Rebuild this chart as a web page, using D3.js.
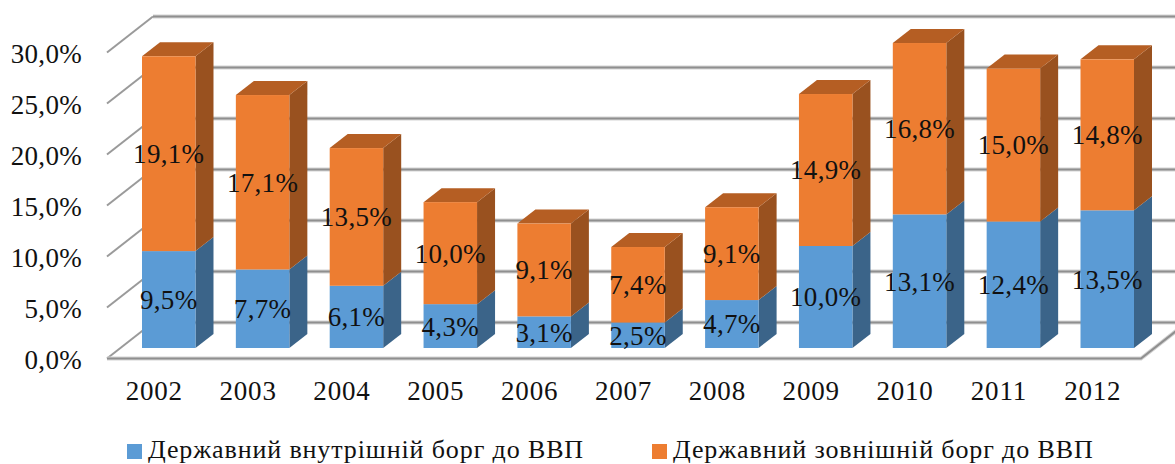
<!DOCTYPE html>
<html>
  <head>
    <meta charset="utf-8" />
    <script src="https://d3js.org/d3.v7.min.js"></script>
    <style>
      html, body { margin: 0; padding: 0; background: #fff; overflow: hidden; }
      text { font-family: "Liberation Serif", serif; fill: #111; }
    </style>
  </head>
  <body>
    <svg width="1175" height="464" id="chart"></svg>
    <script>
      const years = ["2002", "2003", "2004", "2005", "2006", "2007", "2008", "2009", "2010", "2011", "2012"];
      const internalDebt = [9.5, 7.7, 6.1, 4.3, 3.1, 2.5, 4.7, 10.0, 13.1, 12.4, 13.5];
      const externalDebt = [19.1, 17.1, 13.5, 10.0, 9.1, 7.4, 9.1, 14.9, 16.8, 15.0, 14.8];
      const seriesNames = ["Державний внутрішній борг до ВВП", "Державний зовнішній борг до ВВП"];
      const yTicks = [0, 5, 10, 15, 20, 25, 30];

      const svg = d3.select("svg#chart");
      const fmt = (v) => v.toFixed(1).replace(".", ",") + "%";

      const frontColor = ["#5b9bd5", "#ed7d31"];
      const sideColor = ["#3b6489", "#99511f"];
      const topColor = ["#4a7cab", "#b55e23"];

      // bars sit on their own plane, the axis on the front edge of the floor
      const xScale = d3.scaleBand().domain(years).range([142, 1134]).paddingInner(0.43);
      const yScale = d3.scaleLinear().domain([0, 30]).range([348, 42]);
      const yAxisScale = d3.scaleLinear().domain([0, 30]).range([358.5, 52.5]);
      const wallDx = 46;
      const wallDy = -36;
      const depthX = 18;
      const depthY = -14;

      const rows = years.map((y, i) => ({ year: y, internal: internalDebt[i], external: externalDebt[i] }));
      const stacked = d3.stack().keys(["internal", "external"])(rows);

      // grid on the back wall and the left side
      yTicks.forEach((t) => {
        const y = yAxisScale(t);
        [["#d4d4d4", 4], ["#8f8f8f", 2]].forEach(([c, w]) => {
          svg.append("line")
            .attr("x1", 107 + wallDx).attr("y1", y + wallDy)
            .attr("x2", 1175).attr("y2", y + wallDy)
            .style("stroke", c).style("stroke-width", w);
        });
        svg.append("line")
          .attr("x1", 107).attr("y1", y)
          .attr("x2", 107 + wallDx).attr("y2", y + wallDy)
          .style("stroke", "#9a9a9a").style("stroke-width", 2);
      });

      // floor
      svg.append("path")
        .attr("d", `M107,${yAxisScale(0)}H1141L${1141 + wallDx},${yAxisScale(0) + wallDy}`)
        .style("fill", "none").style("stroke", "#d4d4d4").style("stroke-width", 4);
      svg.append("path")
        .attr("d", `M107,${yAxisScale(0)}H1141L${1141 + wallDx},${yAxisScale(0) + wallDy}`)
        .style("fill", "none").style("stroke", "#8f8f8f").style("stroke-width", 2);

      // bars
      stacked.forEach((s, k) => {
        const g = svg.append("g");
        s.forEach((d) => {
          const x0 = xScale(d.data.year);
          const x1 = x0 + xScale.bandwidth();
          const yb = yScale(d[0]);
          const yt = yScale(d[1]);
          g.append("path")
            .attr("d", `M${x1},${yb}L${x1 + depthX},${yb + depthY}V${yt + depthY}L${x1},${yt}Z`)
            .attr("fill", sideColor[k]);
          if (k === 1) {
            g.append("path")
              .attr("d", `M${x0},${yt}L${x0 + depthX},${yt + depthY}H${x1 + depthX}L${x1},${yt}Z`)
              .attr("fill", topColor[k]);
          }
          g.append("rect")
            .attr("x", x0)
            .attr("y", yt)
            .attr("width", x1 - x0)
            .attr("height", yb - yt)
            .attr("fill", frontColor[k]);
        });
      });

      // data labels
      stacked.forEach((s) => {
        svg.append("g").selectAll("text").data(s).join("text")
          .attr("x", (d) => xScale(d.data.year) + xScale.bandwidth() / 2)
          .attr("y", (d) => (yScale(d[0]) + yScale(d[1])) / 2)
          .attr("dy", "0.35em")
          .attr("text-anchor", "middle")
          .style("font-size", "27px")
          .style("letter-spacing", "0.3px")
          .text((d) => fmt(d[1] - d[0]));
      });

      // axes
      const axisLeft = d3.axisLeft(yAxisScale).tickValues(yTicks).tickSize(0).tickPadding(0).tickFormat(fmt);
      const gy = svg.append("g").attr("transform", "translate(82,1)").call(axisLeft);
      const axisBottom = d3.axisBottom(xScale).tickSize(0).tickPadding(0);
      const gx = svg.append("g").attr("transform", "translate(-14.5,381)").call(axisBottom);
      [gy, gx].forEach((g) => {
        g.select(".domain").remove();
        g.selectAll("text")
          .style("font-family", '"Liberation Serif", serif')
          .style("font-size", "27px")
          .style("fill", "#111");
      });
      gy.selectAll("text").style("letter-spacing", "0.3px");
      gx.selectAll("text").style("letter-spacing", "0.8px");

      // legend
      const legendX = [127, 652];
      seriesNames.forEach((name, k) => {
        svg.append("rect")
          .attr("x", legendX[k]).attr("y", 444)
          .attr("width", 15).attr("height", 15)
          .attr("fill", frontColor[k]);
        svg.append("text")
          .attr("x", legendX[k] + 21).attr("y", 458)
          .style("font-size", "26px")
          .style("letter-spacing", "0.88px")
          .text(name);
      });
    </script>
  </body>
</html>
